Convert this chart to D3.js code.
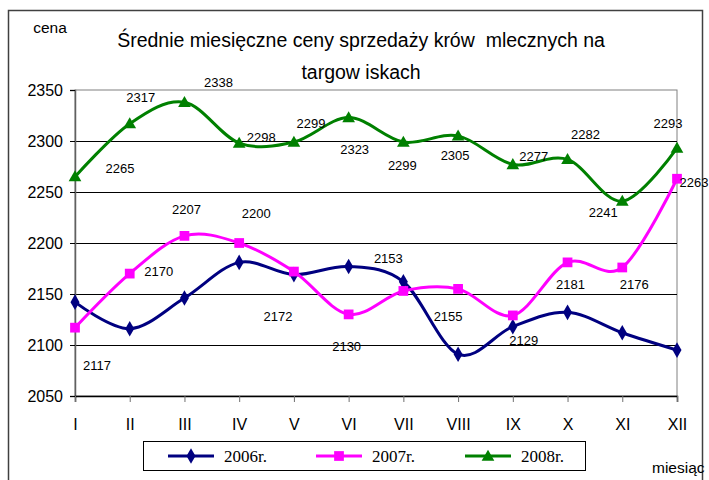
<!DOCTYPE html>
<html>
<head>
<meta charset="UTF-8">
<style>
  body { margin: 0; background: #fff; }
  svg { font-family: "Liberation Sans", Arial, sans-serif; }
  .lbl { font-size: 13px; fill: #000; }
</style>
</head>
<body>
<svg></svg>
<script src="https://d3js.org/d3.v7.min.js"></script>
<script>
let width = 709, height = 480;

// data
var months = ["I", "II", "III", "IV", "V", "VI", "VII", "VIII", "IX", "X", "XI", "XII"];
var years = ["2006r.", "2007r.", "2008r."];
var v2006 = [2142, 2116, 2146, 2181, 2169, 2177, 2162, 2091, 2118, 2132, 2112, 2095];
var v2007 = [2117, 2170, 2207, 2200, 2172, 2130, 2153, 2155, 2129, 2181, 2176, 2263];
var v2008 = [2265, 2317, 2338, 2298, 2299, 2323, 2299, 2305, 2277, 2282, 2241, 2293];
var yTicks = [2050, 2100, 2150, 2200, 2250, 2300, 2350];

// label offsets from each point (px)
var off2007 = [[22,38],[29,-2],[2,-26],[17,-30],[-16,45],[-2,32],[-15,-32],[-10,28],[11,25],[3,22],[12,17],[17,4]];
var off2008 = [[45,-8],[11,-26],[34,-20],[22,-6],[17,-19],[6,32],[-1,23],[-3,20],[21,-8],[18,-25],[-19,11],[-9,-25]];

var colors = ["#000080", "#ff00ff", "#008000"];
var symbols = [d3.symbolDiamond, d3.symbolSquare, d3.symbolTriangle];
var symSize = [70, 95, 70];

let svg = d3.select("svg")
    .attr("width", width)
    .attr("height", height);

svg.append("rect").attr("width", width).attr("height", height).attr("fill", "#fff");
// outer frame
svg.append("rect")
    .attr("x", 8.5).attr("y", 10.5)
    .attr("width", 694).attr("height", 490)
    .attr("fill", "none").attr("stroke", "#404040").attr("stroke-width", 1.5);

var x = d3.scalePoint().domain(months).range([75, 677]);
var y = d3.scaleLinear().domain([2050, 2350]).range([396, 90]);

// plot border
svg.append("rect")
    .attr("x", 75).attr("y", 90)
    .attr("width", 602).attr("height", 306)
    .attr("fill", "none").attr("stroke", "#808080");

// gridlines
svg.append("g")
    .selectAll("line")
    .data(yTicks.filter(d => d > 2050 && d < 2350))
    .enter()
    .append("line")
    .attr("x1", 75).attr("x2", 677)
    .attr("y1", d => Math.round(y(d)) + 0.5)
    .attr("y2", d => Math.round(y(d)) + 0.5)
    .attr("stroke", "#000");

// y axis
let yAxis = svg.append("g")
    .attr("transform", "translate(75,0)")
    .call(d3.axisLeft(y).tickValues(yTicks).tickSize(5).tickPadding(7).tickFormat(d3.format("d")));
yAxis.select(".domain").attr("stroke", "#606060").attr("stroke-width", 1.5);
yAxis.selectAll(".tick line").attr("stroke", "#000");
yAxis.selectAll("text").attr("font-size", 16).attr("font-family", "Liberation Sans, Arial").attr("fill", "#000");

// x axis
let xAxis = svg.append("g")
    .attr("transform", "translate(0,396)")
    .call(d3.axisBottom(x).tickSize(6).tickPadding(17));
xAxis.select(".domain").attr("stroke", "#000").attr("stroke-width", 1.5);
xAxis.selectAll(".tick line").attr("stroke", "#707070");
xAxis.selectAll("text").attr("font-size", 16).attr("font-family", "Liberation Sans, Arial").attr("fill", "#000");

// lines
let line = d3.line()
    .x((d, i) => x(months[i]))
    .y(d => y(d))
    .curve(d3.curveCardinal.tension(0));

[v2006, v2007, v2008].forEach((vals, k) => {
    svg.append("path")
        .datum(vals)
        .attr("d", line)
        .attr("fill", "none")
        .attr("stroke", colors[k])
        .attr("stroke-width", 3);
});

[v2006, v2007, v2008].forEach((vals, k) => {
    svg.append("g")
        .selectAll("path")
        .data(vals)
        .enter()
        .append("path")
        .attr("d", d3.symbol().type(symbols[k]).size(symSize[k]))
        .attr("transform", (d, i) => "translate(" + x(months[i]) + "," + (y(d) + (k == 2 ? 1 : 0)) + ")")
        .attr("fill", colors[k]);
});

// data labels
[[v2007, off2007], [v2008, off2008]].forEach(pair => {
    svg.append("g")
        .selectAll("text")
        .data(pair[0])
        .enter()
        .append("text")
        .attr("class", "lbl")
        .attr("x", (d, i) => x(months[i]) + pair[1][i][0])
        .attr("y", (d, i) => y(d) + pair[1][i][1])
        .attr("text-anchor", "middle")
        .attr("dominant-baseline", "central")
        .text(d => d);
});

// title
svg.append("text")
    .attr("x", 361).attr("y", 40)
    .attr("text-anchor", "middle").attr("dominant-baseline", "central")
    .attr("font-size", 19.5)
    .style("white-space", "pre")
    .text("Średnie miesięczne ceny sprzedaży krów  mlecznych na");
svg.append("text")
    .attr("x", 361).attr("y", 72)
    .attr("text-anchor", "middle").attr("dominant-baseline", "central")
    .attr("font-size", 19.5)
    .text("targow iskach");

svg.append("text")
    .attr("x", 50).attr("y", 27)
    .attr("text-anchor", "middle").attr("dominant-baseline", "central")
    .attr("font-size", 15.5)
    .text("cena");
svg.append("text")
    .attr("x", 652).attr("y", 467)
    .attr("dominant-baseline", "central")
    .attr("font-size", 15.5)
    .text("miesiąc");

// legend
svg.append("rect")
    .attr("x", 143.5).attr("y", 441.5)
    .attr("width", 442).attr("height", 29)
    .attr("fill", "#fff").attr("stroke", "#000");

var legendStart = [168, 316, 465];
var legend = svg.selectAll(".legend")
    .data(years)
    .enter()
    .append("g")
    .attr("class", "legend")
    .attr("transform", (d, i) => "translate(" + legendStart[i] + ",456)");

legend.append("line")
    .attr("x1", 0).attr("x2", 46)
    .attr("stroke", (d, i) => colors[i])
    .attr("stroke-width", 3);
legend.append("path")
    .attr("d", (d, i) => d3.symbol().type(symbols[i]).size(symSize[i])())
    .attr("transform", (d, i) => "translate(23," + (i == 2 ? 1 : 0) + ")")
    .attr("fill", (d, i) => colors[i]);
legend.append("text")
    .attr("x", 56)
    .attr("dominant-baseline", "central")
    .attr("font-family", "Liberation Serif, Times New Roman, serif")
    .attr("font-size", 17)
    .text(d => d);
</script>
</body>
</html>
